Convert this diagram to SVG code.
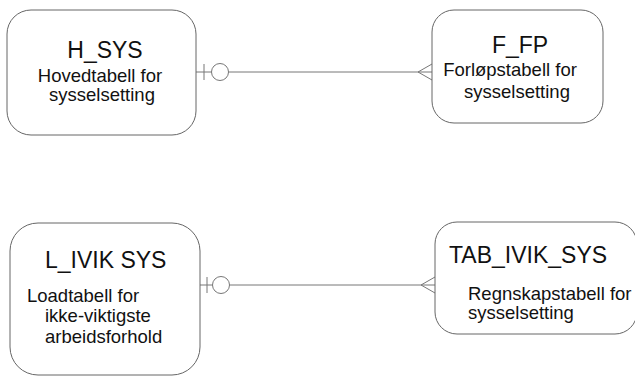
<svg xmlns="http://www.w3.org/2000/svg" width="635" height="377" viewBox="0 0 635 377">
<style>
.box{fill:#fff;stroke:#666;stroke-width:1}
.ln{fill:none;stroke:#777;stroke-width:1}
.t{font-family:"Liberation Sans",Arial,sans-serif;font-size:23px;fill:#111}
.b{font-family:"Liberation Sans",Arial,sans-serif;font-size:18.5px;fill:#111}
</style>
<rect width="635" height="377" fill="#fff"/>
<g id="connectors">
<g id="c1">
<line class="ln" x1="196" y1="72" x2="432" y2="72"/>
<line class="ln" x1="204" y1="64" x2="204" y2="80"/>
<circle class="ln" cx="220" cy="72" r="8.5" style="fill:#fff"/>
<polyline class="ln" points="432,64 418,72 432,80"/>
</g>
<g id="c2">
<line class="ln" x1="200" y1="285" x2="435" y2="285"/>
<line class="ln" x1="207" y1="277" x2="207" y2="293"/>
<circle class="ln" cx="221" cy="285" r="8.5" style="fill:#fff"/>
<polyline class="ln" points="435,277 421,285 435,293"/>
</g>
</g>
<g id="H_SYS">
<rect class="box" x="7" y="10" width="189" height="125" rx="24"/>
<text class="t" x="105" y="58" text-anchor="middle">H_SYS</text>
<text class="b" x="100" y="82" text-anchor="middle">Hovedtabell for</text>
<text class="b" x="102" y="101" text-anchor="middle">sysselsetting</text>
</g>
<g id="F_FP">
<rect class="box" x="432" y="10" width="171" height="113" rx="22"/>
<text class="t" x="520" y="53" text-anchor="middle">F_FP</text>
<text class="b" x="510" y="76" text-anchor="middle">Forløpstabell for</text>
<text class="b" x="517" y="98" text-anchor="middle">sysselsetting</text>
</g>
<g id="L_IVIK_SYS">
<rect class="box" x="10" y="223" width="190" height="152" rx="28"/>
<text class="t" x="45" y="268">L_IVIK SYS</text>
<text class="b" x="27" y="302">Loadtabell for</text>
<text class="b" x="45" y="322">ikke-viktigste</text>
<text class="b" x="45" y="343">arbeidsforhold</text>
</g>
<g id="TAB_IVIK_SYS">
<rect class="box" x="435" y="222" width="202" height="112" rx="22"/>
<text class="t" x="449" y="263">TAB_IVIK_SYS</text>
<text class="b" x="468" y="300">Regnskapstabell for</text>
<text class="b" x="468" y="319">sysselsetting</text>
</g>
</svg>
